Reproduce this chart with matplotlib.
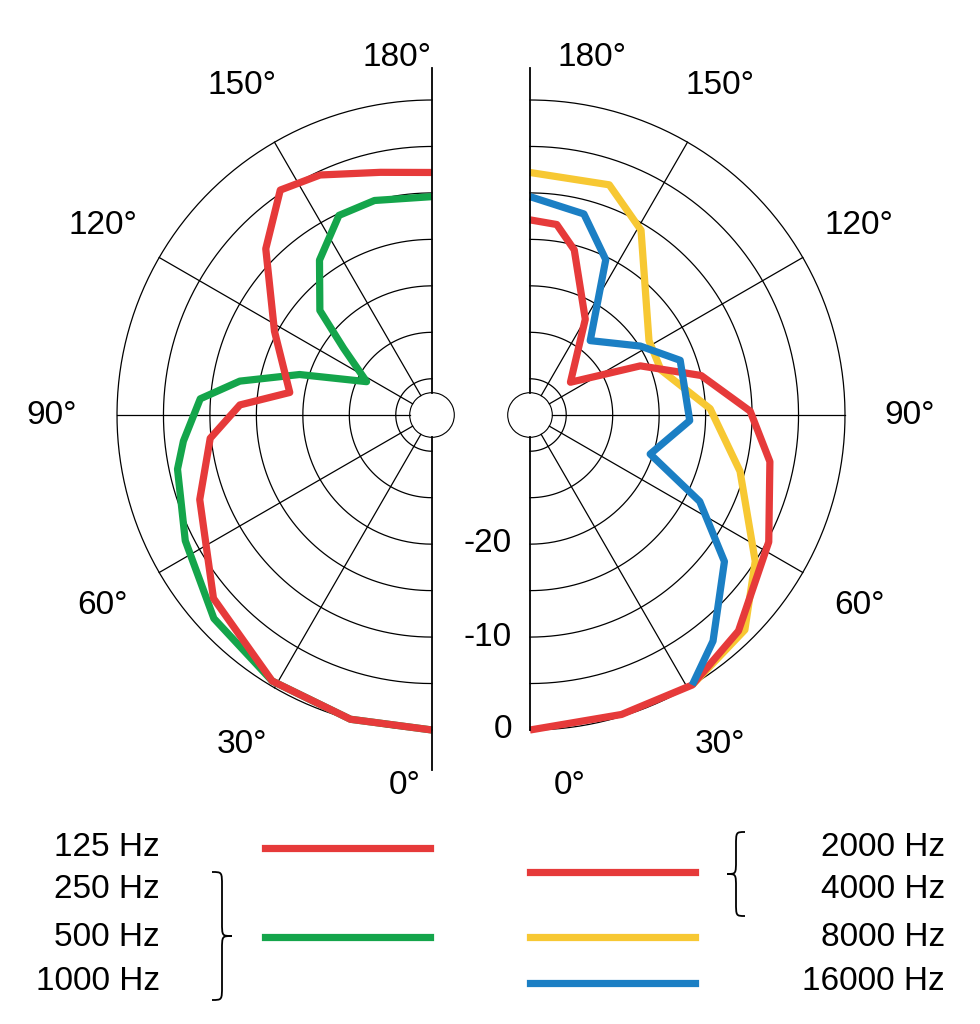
import numpy as np
import matplotlib
matplotlib.use("Agg")
from matplotlib import pyplot as plt
from matplotlib.path import Path
from matplotlib.patches import PathPatch

plt.rcParams['font.family'] = ['Liberation Sans', 'DejaVu Sans']

# polar responses: angle (deg, 0 = front/bottom) and level (dB)
green_ang = [0, 15, 31, 47, 63, 78, 84, 94, 100, 107, 117, 127, 133, 144, 155, 165, 180]
green_db = [0, 0, -0.5, -1.8, -4.1, -5.9, -7, -8.9, -12.9, -19, -26, -22, -17.4, -13.3, -10.2, -10, -10.4]

red_lo_ang = [0, 15, 31, 50, 70, 84, 93, 99, 118, 135, 146, 155, 168, 180]
red_lo_db = [0, 0, -0.5, -3.2, -7.3, -9.9, -13.2, -18.4, -14.7, -8.6, -4.7, -5.4, -7.2, -7.8]

red_hi_ang = [0, 17, 31, 44, 62, 79, 91, 103, 114, 129, 150, 165, 172, 180]
red_hi_db = [0, -0.2, 0, -1.6, -4.8, -7.6, -10.2, -15, -20.9, -28.3, -22, -15.5, -13.2, -12.9]

yellow_ang = [31, 45, 57, 75, 92, 109, 122, 149, 161, 180]
yellow_db = [0, -1.2, -5, -10.5, -14.5, -19, -18.8, -10.7, -7.7, -7.8]

blue_ang = [31, 39, 53, 63, 72, 88, 110, 122, 141, 154, 165, 180]
blue_db = [0, -2.6, -7.7, -13.4, -20.3, -16.7, -16.7, -19.9, -23.6, -15.3, -11.5, -10.4]

angle_ticks = [0, 30, 60, 90, 120, 150, 180]
ring_levels = [-30, -25, -20, -15, -10, -5, 0]
db_labels = ["0", "-10", "-20"]
db_values = [0, -10, -20]

W, H = 980, 1024
R = 315
CL = (432, 415)
CR = (530, 415)
RMIN, RORIG = -31.5, -33.9
RED, GREEN, YELLOW, BLUE = "#e63a3a", "#14a54b", "#f7c833", "#1b7fc4"

fig = plt.figure(figsize=(W / 100, H / 100), dpi=100)


def half_polar(cx, cy, direction):
    rect = [(cx - R) / W, (H - cy - R) / H, 2 * R / W, 2 * R / H]
    ax = fig.add_axes(rect, projection='polar')
    ax.set_theta_zero_location('S')
    ax.set_theta_direction(direction)
    ax.set_ylim(RMIN, 0)
    ax.set_rorigin(RORIG)
    ax.grid(False)
    ax.set_xticks([])
    ax.set_yticks([])
    ax.patch.set_visible(False)
    for sp in ax.spines.values():
        sp.set_visible(False)
    th = np.linspace(0, np.pi, 200)
    for lv in ring_levels:
        ax.plot(th, np.full_like(th, lv), color='black', lw=0.9, clip_on=False)
    for a in angle_ticks[1:-1]:
        ax.plot([np.radians(a)] * 2, [RMIN, 0], color='black', lw=0.9, clip_on=False)
    return ax


axl = half_polar(*CL, -1)
axr = half_polar(*CR, 1)

lw = 5.2
kw = dict(lw=lw, solid_joinstyle='round', solid_capstyle='butt', clip_on=False)
axl.plot(np.radians(green_ang), green_db, color=GREEN, **kw)
axl.plot(np.radians(red_lo_ang), red_lo_db, color=RED, **kw)
axr.plot(np.radians(yellow_ang), yellow_db, color=YELLOW, **kw)
axr.plot(np.radians(red_hi_ang), red_hi_db, color=RED, **kw)
axr.plot(np.radians(blue_ang), blue_db, color=BLUE, **kw)

# overlay in pixel coordinates
ov = fig.add_axes([0, 0, 1, 1], facecolor='none')
ov.set_xlim(0, W)
ov.set_ylim(H, 0)
ov.axis('off')

hole = 9.3 * (RMIN - RORIG)
ov.plot([CL[0], CL[0]], [68, CL[1] - hole], color='black', lw=1.3)
ov.plot([CL[0], CL[0]], [CL[1] + hole, 770], color='black', lw=1.3)
ov.plot([CR[0], CR[0]], [68, CR[1] - hole], color='black', lw=1.3)
ov.plot([CR[0], CR[0]], [CR[1] + hole, CR[1] + R], color='black', lw=1.3)

fs = 24
for a in angle_ticks[1:-1]:
    t = np.radians(a)
    dx, dy = 380 * np.sin(t), -380 * np.cos(t)
    ov.text(CL[0] - dx, CL[1] - dy, f"{a}°", fontsize=fs, ha='center', va='center')
    ov.text(CR[0] + dx, CR[1] - dy, f"{a}°", fontsize=fs, ha='center', va='center')
ov.text(397, 58, "180°", fontsize=fs, ha='center', va='center')
ov.text(592, 58, "180°", fontsize=fs, ha='center', va='center')
ov.text(405, 786, "0°", fontsize=fs, ha='center', va='center')
ov.text(570, 786, "0°", fontsize=fs, ha='center', va='center')
for lab, v in zip(db_labels, db_values):
    ov.text(512, CR[1] + R + 9.3 * v, lab, fontsize=fs, ha='right', va='center')

# legend
left_labels = ["125 Hz", "250 Hz", "500 Hz", "1000 Hz"]
right_labels = ["2000 Hz", "4000 Hz", "8000 Hz", "16000 Hz"]
rows = [848, 890, 937, 982]
for lab, y in zip(left_labels, rows):
    ov.text(160, y, lab, fontsize=fs, ha='right', va='center')
for lab, y in zip(right_labels, rows):
    ov.text(945, y, lab, fontsize=fs, ha='right', va='center')
ov.plot([265, 430], [848, 848], color=RED, lw=lw)
ov.plot([265, 430], [937, 937], color=GREEN, lw=lw)
ov.plot([530, 695], [872, 872], color=RED, lw=lw)
ov.plot([530, 695], [937, 937], color=YELLOW, lw=lw)
ov.plot([530, 695], [983, 983], color=BLUE, lw=lw)


def brace(x, y0, y1, w, d=14):
    ym = (y0 + y1) / 2
    verts = [(x, y0), (x + w, y0), (x + w, y0), (x + w, y0 + d),
             (x + w, ym - d),
             (x + w, ym), (x + w, ym), (x + 2 * w, ym),
             (x + w, ym), (x + w, ym), (x + w, ym + d),
             (x + w, y1 - d),
             (x + w, y1), (x + w, y1), (x, y1)]
    codes = [Path.MOVETO, Path.CURVE4, Path.CURVE4, Path.CURVE4,
             Path.LINETO,
             Path.CURVE4, Path.CURVE4, Path.CURVE4,
             Path.CURVE4, Path.CURVE4, Path.CURVE4,
             Path.LINETO,
             Path.CURVE4, Path.CURVE4, Path.CURVE4]
    ov.add_patch(PathPatch(Path(verts, codes), fill=False, lw=1.3, color='black'))


brace(212, 872, 1000, 10)
brace(745, 832, 916, -9)

fig.savefig("out.png", dpi=100)
